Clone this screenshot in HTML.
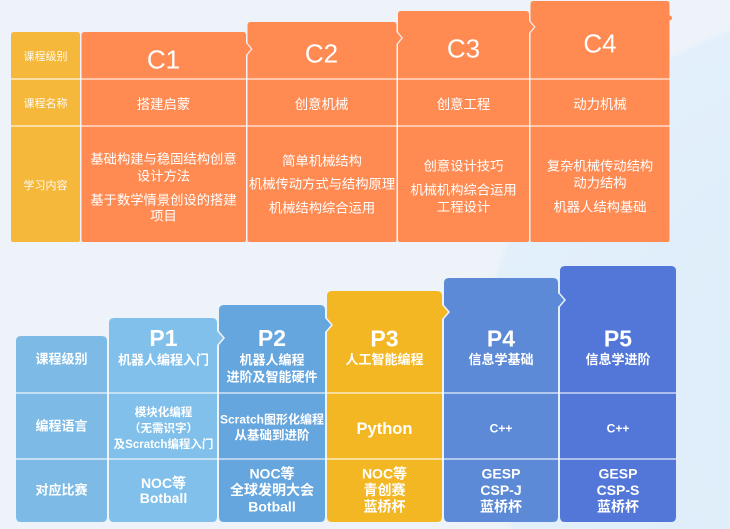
<!DOCTYPE html>
<html><head><meta charset="utf-8"><style>
html,body{margin:0;padding:0;background:#edf3f9;width:730px;height:529px;overflow:hidden;}
svg{display:block;position:absolute;left:0;top:0;}
text{font-family:"Liberation Sans","Noto Sans CJK SC",sans-serif;fill:#fff;text-anchor:middle;}
</style></head><body>
<svg width="730" height="529" viewBox="0 0 730 529" xmlns="http://www.w3.org/2000/svg">
<defs>
<radialGradient id="bgc" cx="850" cy="380" r="372" gradientUnits="userSpaceOnUse">
<stop offset="0" stop-color="#dcecfa"/><stop offset="0.985" stop-color="#e3f0fb"/><stop offset="1" stop-color="#edf3f9"/>
</radialGradient>
</defs>
<rect width="730" height="529" fill="url(#bgc)"/>

<!-- TOP SECTION -->
<path d="M11,35 Q11,32 14,32 L77,32 Q80,32 80,35 L80,240 Q80,242 78,242 L13,242 Q11,242 11,240 Z" fill="#f5b83a"/>
<path d="M81.5,35 Q81.5,32 84.5,32 L243,32 Q246,32 246,35 L246,43 L251,49 L246,55 L246,240 Q246,242 244,242 L83.5,242 Q81.5,242 81.5,240 Z" fill="#ff8b53"/>
<path d="M247.5,25 Q247.5,22 250.5,22 L393.5,22 Q396.5,22 396.5,25 L396.5,32 L401.5,38 L396.5,44 L396.5,240 Q396.5,242 394.5,242 L249.5,242 Q247.5,242 247.5,240 L247.5,55 L252.5,49 L247.5,43 Z" fill="#ff8b53"/>
<path d="M398,14 Q398,11 401,11 L526,11 Q529,11 529,14 L529,21 L534,27 L529,33 L529,240 Q529,242 527,242 L400,242 Q398,242 398,240 L398,44 L403,38 L398,32 Z" fill="#ff8b53"/>
<path d="M530.5,4 Q530.5,1 533.5,1 L666.5,1 Q669.5,1 669.5,4 L669.5,240 Q669.5,242 667.5,242 L532.5,242 Q530.5,242 530.5,240 L530.5,33 L535.5,27 L530.5,21 Z" fill="#ff8b53"/>
<circle cx="669.5" cy="18" r="2.5" fill="#ff8b53"/>
<line x1="11" y1="79" x2="670" y2="79" stroke="#fff" stroke-opacity="0.7" stroke-width="1.5"/>
<line x1="11" y1="126" x2="670" y2="126" stroke="#fff" stroke-opacity="0.7" stroke-width="1.5"/>

<g font-size="11" opacity="0.95">
<text x="45.5" y="60">课程级别</text>
<text x="45.5" y="107">课程名称</text>
<text x="45.5" y="189">学习内容</text>
</g>
<g font-size="26">
<text x="163.5" y="68.4">C1</text>
<text x="321.5" y="62.4">C2</text>
<text x="463.5" y="57.4">C3</text>
<text x="600" y="52.4">C4</text>
</g>
<g font-size="13.4">
<text x="163.5" y="109">搭建启蒙</text>
<text x="321.5" y="109">创意机械</text>
<text x="463.5" y="109">创意工程</text>
<text x="600" y="109">动力机械</text>
</g>
<g font-size="13.3">
<text x="163.5" y="163.7">基础构建与稳固结构创意</text>
<text x="163.5" y="180.7">设计方法</text>
<text x="163.5" y="204.7">基于数学情景创设的搭建</text>
<text x="163.5" y="220.7">项目</text>
<text x="322" y="165.7">简单机械结构</text>
<text x="322" y="188.7">机械传动方式与结构原理</text>
<text x="322" y="212.7">机械结构综合运用</text>
<text x="463.5" y="170.7">创意设计技巧</text>
<text x="463.5" y="194.7">机械机构综合运用</text>
<text x="463.5" y="211.7">工程设计</text>
<text x="600" y="170.7">复杂机械传动结构</text>
<text x="600" y="187.7">动力结构</text>
<text x="600" y="211.7">机器人结构基础</text>
</g>

<!-- BOTTOM SECTION -->
<path d="M16,341 Q16,336 21,336 L102,336 Q107,336 107,341 L107,517 Q107,522 102,522 L21,522 Q16,522 16,517 Z" fill="#7dbbe6"/>
<path d="M109,323 Q109,318 114,318 L212,318 Q217,318 217,323 L217,331 L223,338 L217,345 L217,517 Q217,522 212,522 L114,522 Q109,522 109,517 Z" fill="#81c0ea"/>
<path d="M219,310 Q219,305 224,305 L320,305 Q325,305 325,310 L325,318 L331,325 L325,332 L325,517 Q325,522 320,522 L224,522 Q219,522 219,517 L219,345 L225,338 L219,331 Z" fill="#66a6de"/>
<path d="M327,296 Q327,291 332,291 L437,291 Q442,291 442,296 L442,305 L448,312 L442,319 L442,517 Q442,522 437,522 L332,522 Q327,522 327,517 L327,332 L333,325 L327,318 Z" fill="#f4b724"/>
<path d="M444,283 Q444,278 449,278 L553,278 Q558,278 558,283 L558,293 L564,300 L558,307 L558,517 Q558,522 553,522 L449,522 Q444,522 444,517 L444,319 L450,312 L444,305 Z" fill="#5d8ad6"/>
<path d="M560,271 Q560,266 565,266 L671,266 Q676,266 676,271 L676,517 Q676,522 671,522 L565,522 Q560,522 560,517 L560,307 L566,300 L560,293 Z" fill="#5277d9"/>
<line x1="16" y1="393" x2="676" y2="393" stroke="#fff" stroke-opacity="0.7" stroke-width="1.5"/>
<line x1="16" y1="459" x2="676" y2="459" stroke="#fff" stroke-opacity="0.7" stroke-width="1.5"/>

<g font-size="13" font-weight="bold">
<text x="61.5" y="363.7">课程级别</text>
<text x="61.5" y="430.7">编程语言</text>
<text x="61.5" y="494.7">对应比赛</text>
</g>
<g font-size="23" font-weight="bold">
<text x="163.5" y="345.8">P1</text>
<text x="272" y="345.8">P2</text>
<text x="384.5" y="346.3">P3</text>
<text x="501" y="346.3">P4</text>
<text x="618" y="346.3">P5</text>
</g>
<g font-size="13" font-weight="bold">
<text x="163.5" y="364.4">机器人编程入门</text>
<text x="272" y="364.7">机器人编程</text>
<text x="272" y="381.7">进阶及智能硬件</text>
<text x="384.5" y="364.2">人工智能编程</text>
<text x="501" y="364.2">信息学基础</text>
<text x="618" y="364.2">信息学进阶</text>
</g>
<g font-size="11.5" font-weight="bold">
<text x="163.5" y="416.1">模块化编程</text>
<text x="163.5" y="432.1">（无需识字）</text>
<text x="163.5" y="448.1">及Scratch编程入门</text>
</g>
<text x="272" y="423.3" font-size="12" font-weight="bold">Scratch图形化编程</text>
<text x="272" y="439.5" font-size="12.5" font-weight="bold">从基础到进阶</text>
<text x="384.5" y="434" font-size="16.5" font-weight="bold">Python</text>
<text x="501" y="432.3" font-size="12" font-weight="bold">C++</text>
<text x="618" y="432.3" font-size="12" font-weight="bold">C++</text>
<g font-size="14" font-weight="bold">
<text x="163.5" y="488">NOC等</text>
<text x="163.5" y="503">Botball</text>
<text x="272" y="478.5">NOC等</text>
<text x="272" y="495">全球发明大会</text>
<text x="272" y="511.5">Botball</text>
<text x="384.5" y="478.5">NOC等</text>
<text x="384.5" y="495">青创赛</text>
<text x="384.5" y="511.5">蓝桥杯</text>
<text x="501" y="478.5">GESP</text>
<text x="501" y="495">CSP-J</text>
<text x="501" y="511.5">蓝桥杯</text>
<text x="618" y="478.5">GESP</text>
<text x="618" y="495">CSP-S</text>
<text x="618" y="511.5">蓝桥杯</text>
</g>
</svg>
</body></html>
